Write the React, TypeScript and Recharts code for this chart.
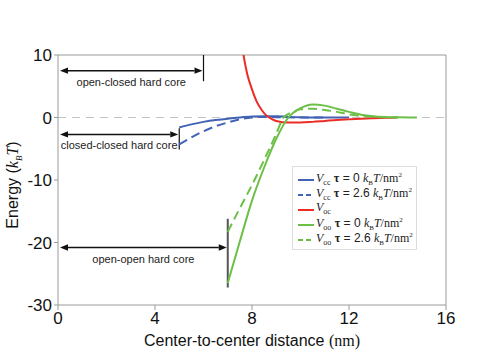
import React from 'react';
import {
  LineChart,
  Line,
  XAxis,
  YAxis,
  ReferenceLine
} from 'recharts';

// distance (nm) / energy (kBT)
const vccX0 = [5, 5.5, 6, 6.5, 7, 7.5, 8, 8.5, 9, 9.5, 10, 11, 12];
const vccTau0 = [-1.6, -1.1, -0.7, -0.4, -0.2, 0, 0.15, 0.2, 0.2, 0.1, 0.05, 0, 0];
const vccX26 = [5, 5.5, 6, 6.5, 7, 7.5, 8, 8.5, 9, 10, 11];
const vccTau26 = [-4.3, -3.2, -2.2, -1.4, -0.8, -0.3, 0, 0.1, 0.05, 0, 0];
const vocX = [7.5, 7.65, 7.8, 8, 8.2, 8.4, 8.6, 8.8, 9, 9.5, 10, 10.5, 11, 11.5, 12, 12.5, 13, 13.5, 14];
const voc = [14, 10, 7, 4.5, 2.5, 1.2, 0.3, -0.2, -0.55, -0.8, -0.8, -0.7, -0.55, -0.4, -0.3, -0.2, -0.12, -0.06, 0];
const vooX0 = [7, 7.5, 8, 8.5, 9, 9.5, 10, 10.5, 11, 11.5, 12, 12.5, 13, 13.5, 14, 14.8];
const vooTau0 = [-26.5, -19.8, -13.3, -8, -3.4, 0, 1.5, 2.1, 1.9, 1.4, 0.9, 0.45, 0.2, 0.08, 0.03, 0];
const vooX26 = [7, 7.5, 8, 8.5, 9, 9.3, 9.7, 10, 10.5, 11, 11.5, 12, 12.5, 13, 13.5, 14];
const vooTau26 = [-18.3, -14.5, -10.8, -6.8, -2.6, 0, 0.9, 1.3, 1.4, 1.2, 0.9, 0.5, 0.25, 0.1, 0.03, 0];

const xTicks = [0, 4, 8, 12, 16];
const yTicks = [-30, -20, -10, 0, 10];

// hard core annotations: arrow from 0 to `end` at height `y`, wall spanning top..bottom
const coreLabels = ['open-closed hard core', 'closed-closed hard core', 'open-open hard core'];
const coreEnds = [6, 5, 7];
const coreArrowY = [7.5, -2.7, -20.8];
const coreWallTop = [10, -1.7, -16.2];
const coreWallBottom = [5.8, -5.1, -27.2];

const BLUE = '#4263b5';
const RED = '#ec2d25';
const GREEN = '#6cbf47';
const AXIS = '#9a9a9a';
const SANS = '"Liberation Sans", Arial, sans-serif';
const SERIF = '"Liberation Serif", "Times New Roman", serif';

const toPoints = (xs: number[], ys: number[]) => xs.map((x, i) => ({ x, y: ys[i] }));

const makeArrow = (label: string) => (props: any) => {
  const { x1, x2, y1 } = props;
  const left = Math.min(x1, x2) + 2;
  const right = Math.max(x1, x2) - 1;
  const h = 8;
  const w = 3.2;
  return (
    <g>
      <line x1={left + h} y1={y1} x2={right - h} y2={y1} stroke="#111" strokeWidth={1.5} />
      <polygon points={`${left},${y1} ${left + h},${y1 - w} ${left + h},${y1 + w}`} fill="#111" />
      <polygon points={`${right},${y1} ${right - h},${y1 - w} ${right - h},${y1 + w}`} fill="#111" />
      <text
        x={(left + right) / 2}
        y={y1 + 15}
        textAnchor="middle"
        fontFamily={SANS}
        fontSize={11}
        fill="#222"
      >
        {label}
      </text>
    </g>
  );
};

const YLabel = () => (
  <text
    x={18}
    y={185}
    transform="rotate(-90 18 185)"
    textAnchor="middle"
    fontFamily={SANS}
    fontSize={16}
    fill="#111"
  >
    Energy (
    <tspan fontFamily={SERIF} fontStyle="italic">k</tspan>
    <tspan fontFamily={SERIF} fontStyle="italic" fontSize={9} dy={4}>B</tspan>
    <tspan fontFamily={SERIF} fontStyle="italic" dy={-4}>T</tspan>)
  </text>
);

const XLabel = () => (
  <text x={252} y={346} textAnchor="middle" fontFamily={SANS} fontSize={16} fill="#111">
    Center-to-center distance <tspan fontFamily={SERIF}>(nm)</tspan>
  </text>
);

const MathLabel = ({ sub, tau }: { sub: string; tau?: string }) => (
  <span>
    <span style={{ fontFamily: SERIF, fontStyle: 'italic' }}>V</span>
    <sub style={{ fontFamily: SERIF, fontSize: 8 }}>{sub}</sub>
    {tau !== undefined && (
      <>
        {' '}
        <b style={{ fontFamily: SERIF }}>τ</b>
        {` = ${tau} `}
        <span style={{ fontFamily: SERIF, fontStyle: 'italic' }}>k</span>
        <sub style={{ fontFamily: SERIF, fontSize: 7 }}>B</sub>
        <span style={{ fontFamily: SERIF, fontStyle: 'italic' }}>T</span>
        <span style={{ fontFamily: SERIF }}>/nm</span>
        <sup style={{ fontFamily: SERIF, fontSize: 7 }}>2</sup>
      </>
    )}
  </span>
);

const legendRows = [
  { color: BLUE, dashed: false, sub: 'cc', tau: '0' },
  { color: BLUE, dashed: true, sub: 'cc', tau: '2.6' },
  { color: RED, dashed: false, sub: 'oc', tau: undefined },
  { color: GREEN, dashed: false, sub: 'oo', tau: '0' },
  { color: GREEN, dashed: true, sub: 'oo', tau: '2.6' }
];

const LegendBox = () => (
  <div
    style={{
      position: 'absolute',
      left: 292,
      top: 166,
      width: 125,
      height: 84,
      boxSizing: 'border-box',
      border: '1px solid #dcdcdc',
      background: '#fff',
      padding: '5px 0 0 5px',
      fontFamily: SANS,
      fontSize: 12,
      lineHeight: '15px',
      color: '#222'
    }}
  >
    {legendRows.map((r, i) => (
      <div key={i} style={{ display: 'flex', alignItems: 'center', height: 15, whiteSpace: 'nowrap' }}>
        <svg width={16} height={6} style={{ marginRight: 2, flex: 'none' }}>
          <line
            x1={0}
            y1={3}
            x2={16}
            y2={3}
            stroke={r.color}
            strokeWidth={2}
            strokeDasharray={r.dashed ? '5 3' : undefined}
          />
        </svg>
        <MathLabel sub={r.sub} tau={r.tau} />
      </div>
    ))}
  </div>
);

const App: React.FC = () => {
  return (
    <div style={{ position: 'absolute', left: 0, top: 0, width: 485, height: 362 }}>
      <LineChart width={485} height={362} margin={{ top: 55, right: 39, bottom: 27, left: 0 }}>
        <XAxis
          type="number"
          dataKey="x"
          domain={[0, 16]}
          ticks={xTicks}
          height={30}
          stroke={AXIS}
          tickSize={5}
          tick={{ fill: '#111', fontSize: 17, fontFamily: SANS }}
          label={<XLabel />}
        />
        <YAxis
          type="number"
          dataKey="y"
          domain={[-30, 10]}
          ticks={yTicks}
          allowDataOverflow
          width={58}
          stroke={AXIS}
          tickSize={4}
          tick={{ fill: '#111', fontSize: 17, fontFamily: SANS }}
          label={<YLabel />}
        />
        <ReferenceLine y={10} stroke={AXIS} />
        <ReferenceLine x={16} stroke={AXIS} />
        <ReferenceLine y={0} stroke="#c4c4c4" strokeDasharray="8 6" />

        {coreLabels.map((label, i) => (
          <ReferenceLine
            key={'a' + i}
            segment={[
              { x: 0, y: coreArrowY[i] },
              { x: coreEnds[i], y: coreArrowY[i] }
            ]}
            shape={makeArrow(label)}
          />
        ))}
        {coreLabels.map((label, i) => (
          <ReferenceLine
            key={'w' + i}
            segment={[
              { x: coreEnds[i], y: coreWallTop[i] },
              { x: coreEnds[i], y: coreWallBottom[i] }
            ]}
            stroke={i === 2 ? '#555' : '#111'}
            strokeWidth={i === 2 ? 2 : 1.2}
          />
        ))}

        <Line data={toPoints(vccX0, vccTau0)} dataKey="y" type="monotone" stroke={BLUE} strokeWidth={2} dot={false} isAnimationActive={false} />
        <Line data={toPoints(vccX26, vccTau26)} dataKey="y" type="monotone" stroke={BLUE} strokeWidth={2} strokeDasharray="9 5" dot={false} isAnimationActive={false} />
        <Line data={toPoints(vocX, voc)} dataKey="y" type="monotone" stroke={RED} strokeWidth={2} dot={false} isAnimationActive={false} />
        <Line data={toPoints(vooX0, vooTau0)} dataKey="y" type="monotone" stroke={GREEN} strokeWidth={2} dot={false} isAnimationActive={false} />
        <Line data={toPoints(vooX26, vooTau26)} dataKey="y" type="monotone" stroke={GREEN} strokeWidth={2} strokeDasharray="9 5" dot={false} isAnimationActive={false} />
      </LineChart>
      <LegendBox />
    </div>
  );
};

export default App;
